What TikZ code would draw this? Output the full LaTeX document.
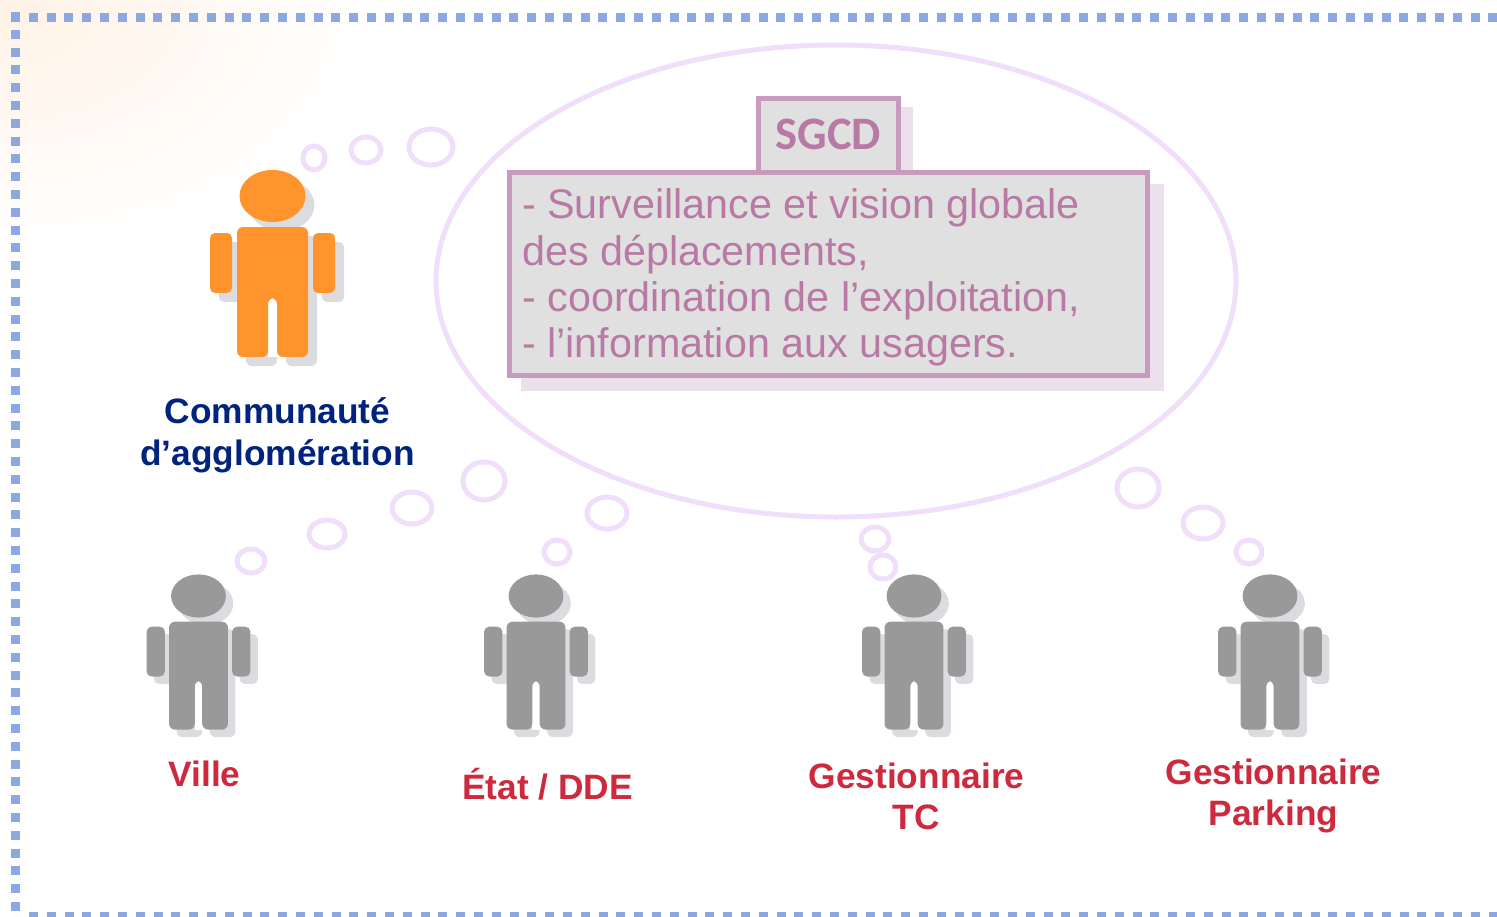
\documentclass[tikz,border=0pt]{standalone}
\usepackage{fontspec}
\setmainfont{Liberation Sans}
\newfontfamily\sgcdfont{Carlito}
\definecolor{dotblue}{RGB}{140,167,226}
\definecolor{glow}{RGB}{255,242,229}
\definecolor{bubble}{RGB}{240,222,250}
\definecolor{boxline}{RGB}{200,155,190}
\definecolor{boxfill}{RGB}{224,224,224}
\definecolor{boxtext}{RGB}{184,122,165}
\definecolor{boxshadow}{RGB}{236,224,236}
\definecolor{navy}{RGB}{0,36,125}
\definecolor{redlabel}{RGB}{205,42,62}
\definecolor{manorange}{RGB}{255,148,44}
\definecolor{mangrey}{RGB}{153,153,153}
\definecolor{manshadow}{RGB}{220,220,224}
\tikzset{
    border/.style={dotblue, line width=9pt, dash pattern=on 9pt off 8.8pt},
    thought/.style={bubble, line width=5pt},
    box/.style={draw=boxline, fill=boxfill, line width=5pt},
    bluelabel/.style={navy, font=\fontsize{35.3}{42}\selectfont\bfseries, align=center},
    redtext/.style={redlabel, font=\fontsize{35.3}{41}\selectfont\bfseries, align=center}
}
% one man: head, arms and body, drawn around the centre of the head
\newcommand{\manshape}[1]{
    \fill [#1] (0,0) ellipse [x radius=33, y radius=26];
    \fill [#1, rounded corners=5pt] (-62.5,37) rectangle (-40.5,97);
    \fill [#1, rounded corners=5pt] (40.5,37) rectangle (62.5,97);
    \fill [#1, rounded corners=6pt] (-35.5,31) -- (35.5,31) -- (35.5,161) -- (4.5,161)
        -- (4.5,102) -- (-4.5,102) -- (-4.5,161) -- (-35.5,161) -- cycle;
}
\newcommand{\man}[4]{
    \begin{scope}[shift={(#1,#2)}, scale=#3]
        \begin{scope}[shift={(9,9)}]
            \manshape{manshadow}
        \end{scope}
        \fill [white] (-4.5,100) rectangle (4.5,161);
        \manshape{#4}
    \end{scope}
}
\begin{document}
\begin{tikzpicture}[x=1pt, y=-1pt]
    \useasboundingbox (0,0) rectangle (1497,916);

    % glow in the corner
    \shade [inner color=glow, outer color=white] (0,0) ellipse [x radius=370, y radius=250];

    % dotted frame
    \draw [border] (11,17) -- (1497,17);
    \draw [border] (15.5,12) -- (15.5,916);
    \draw [border] (29,916) -- (1497,916);

    % thought bubbles
    \draw [thought] (836,281) ellipse [x radius=400, y radius=236];
    \foreach \x/\y/\rx/\ry in {314/158/11/12, 366/150/15/13, 431/147/22/18,
        251/561/14/12, 327/534/18/14, 412/508/20/16, 484/481/21/19,
        607/513/20/16, 557/552/13/12, 875/539/14/12, 883/567/13/12,
        1138/488/21/19, 1203/523/20/16, 1249/552/13/12}
        \draw [thought] (\x,\y) ellipse [x radius=\rx, y radius=\ry];

    % SGCD box
    \fill [boxshadow] (770,107) rectangle (913,185);
    \fill [boxshadow] (521,184) rectangle (1164,391);
    \draw [box] (758.5,98.5) rectangle (898,172);
    \draw [box] (509.5,172.5) rectangle (1147.5,375);
    \node (sgcd) at (828.5,134) [boxtext, font=\sgcdfont\fontsize{46.5}{50}\selectfont\bfseries] {SGCD};
    \node (missions) at (518.7,277.5) [anchor=west, boxtext, align=left,
        font=\fontsize{41.3}{46.3}\selectfont] {- Surveillance et vision globale\\des déplacements,\\- coordination de l’exploitation,\\- l’information aux usagers.};

    % people
    \man{272.5}{196}{1}{manorange}
    \foreach \x in {198.5,536,914,1270} {
        \man{\x}{596}{0.83}{mangrey}
    }

    \node (communaute) at (277.5,435.5) [bluelabel] {Communauté\\d’agglomération};
    \node (ville) at (204.5,774) [redtext] {Ville};
    \node (etat) at (547.5,784) [redtext] {État / DDE};
    \node (tc) at (916.5,796.5) [redtext] {Gestionnaire\\TC};
    \node (parking) at (1273.5,795.5) [redtext] {Gestionnaire\\Parking};
\end{tikzpicture}
\end{document}
